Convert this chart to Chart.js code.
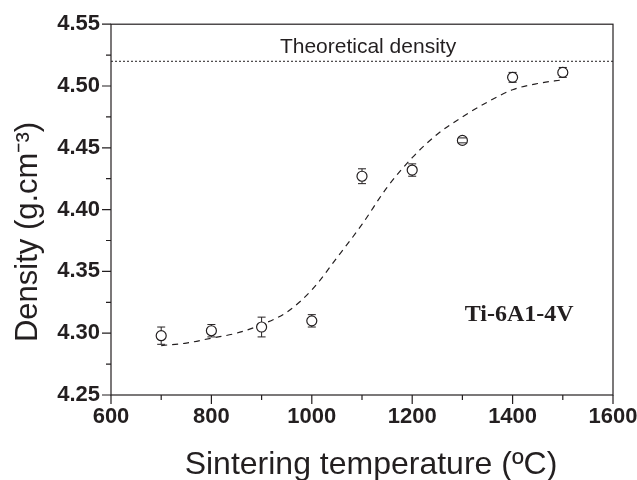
<!DOCTYPE html>
<html><head><meta charset="utf-8">
<script src="https://cdn.jsdelivr.net/npm/chart.js@4"></script>
<style>html,body{margin:0;padding:0;background:#fff}#wrap{width:637px;height:480px}</style>
</head><body><div id="wrap"><canvas id="c"></canvas></div>
<script>
const temperatures = [700, 800, 900, 1000, 1100, 1200, 1300, 1400, 1500];
const densities = [4.298, 4.302, 4.305, 4.310, 4.427, 4.432, 4.456, 4.507, 4.511];
const errors = [0.007, 0.005, 0.008, 0.005, 0.006, 0.005, 0.002, 0.004, 0.004];
const fitX = [700, 750, 800, 850, 900, 950, 1000, 1050, 1100, 1150, 1200, 1250, 1300, 1350, 1400, 1450, 1500];
const fitY = [4.290, 4.292, 4.296, 4.300, 4.307, 4.317, 4.335, 4.361, 4.388, 4.418, 4.442, 4.461, 4.475, 4.487, 4.497, 4.502, 4.505];
const theoretical = 4.52;
const xTicks = [600, 800, 1000, 1200, 1400, 1600];
const yTicks = [4.25, 4.30, 4.35, 4.40, 4.45, 4.50, 4.55];
const xTitle = 'Sintering temperature (ºC)';
const yTitle = 'Density (g.cm⁻³)';

const ink = '#231f20';
const sans = 'Arial, "Liberation Sans", sans-serif';
const extras = {
  id: 'extras',
  afterDatasetsDraw(chart) {
    const {ctx, chartArea: a, scales: {x, y}} = chart;
    ctx.save();
    ctx.strokeStyle = ink; ctx.lineWidth = 1;
    temperatures.forEach((t, i) => {
      const px = x.getPixelForValue(t);
      const top = y.getPixelForValue(densities[i] + errors[i]);
      const bot = y.getPixelForValue(densities[i] - errors[i]);
      const c = y.getPixelForValue(densities[i]);
      ctx.beginPath();
      if (c - top > 5) { ctx.moveTo(px, top); ctx.lineTo(px, c - 5); }
      if (bot - c > 5) { ctx.moveTo(px, c + 5); ctx.lineTo(px, bot); }
      ctx.moveTo(px - 4, top); ctx.lineTo(px + 4, top);
      ctx.moveTo(px - 4, bot); ctx.lineTo(px + 4, bot);
      ctx.stroke();
    });
    ctx.lineWidth = 1.2;
    ctx.strokeRect(a.left, a.top, a.right - a.left, a.bottom - a.top);
    ctx.beginPath();
    for (let v = 600; v <= 1600; v += 100) {
      const px = x.getPixelForValue(v);
      const len = (v % 200 === 0) ? 9 : 5;
      ctx.moveTo(px, a.bottom); ctx.lineTo(px, a.bottom + len);
    }
    for (let k = 0; k <= 12; k++) {
      const v = 4.25 + k * 0.025;
      const py = y.getPixelForValue(v);
      const len = (k % 2 === 0) ? 9 : 5;
      ctx.moveTo(a.left, py); ctx.lineTo(a.left - len, py);
    }
    ctx.stroke();
    ctx.fillStyle = ink;
    ctx.textAlign = 'center'; ctx.textBaseline = 'middle';
    ctx.font = '21px ' + sans;
    ctx.fillText('Theoretical density', x.getPixelForValue(1112), y.getPixelForValue(4.5315));
    ctx.font = 'bold 24px "Times New Roman", "Liberation Serif", serif';
    ctx.fillText('Ti-6A1-4V', x.getPixelForValue(1413), y.getPixelForValue(4.315));
    // axis titles
    ctx.textBaseline = 'alphabetic';
    ctx.font = '32px ' + sans;
    ctx.fillText(xTitle, 371, 474);
    ctx.save();
    ctx.font = '31px ' + sans;
    ctx.translate(37, 232);
    ctx.rotate(-Math.PI / 2);
    ctx.fillText(yTitle, 0, 0);
    ctx.restore();
    ctx.restore();
  }
};

new Chart(document.getElementById('c'), {
  type: 'scatter',
  data: {
    datasets: [
      {
        data: [{x: 600, y: theoretical}, {x: 1600, y: theoretical}],
        showLine: true, borderColor: ink, borderWidth: 1, borderDash: [2, 2], pointRadius: 0, order: 3
      },
      {
        data: fitX.map((v, i) => ({x: v, y: fitY[i]})),
        showLine: true, borderColor: ink, borderWidth: 1.2, borderDash: [6, 5], pointRadius: 0,
        cubicInterpolationMode: 'monotone', order: 2
      },
      {
        data: temperatures.map((v, i) => ({x: v, y: densities[i]})),
        pointRadius: 5, pointBorderWidth: 1.2, pointBackgroundColor: '#fff', pointBorderColor: ink, order: 1
      }
    ]
  },
  options: {
    responsive: true, maintainAspectRatio: false, animation: false,
    devicePixelRatio: 1,
    layout: {padding: {top: 22, right: 24, bottom: 0, left: 0}},
    plugins: {legend: {display: false}, tooltip: {enabled: false}},
    scales: {
      x: {
        type: 'linear', min: 600, max: 1600,
        afterBuildTicks: s => { s.ticks = xTicks.map(v => ({value: v})); },
        afterFit: s => { s.height = 85; s.paddingLeft = 0; s.paddingRight = 0; },
        grid: {display: false, drawTicks: false},
        border: {display: false},
        ticks: {color: ink, padding: 9, maxRotation: 0, callback: v => String(v),
          font: {family: sans, size: 22, weight: 'bold'}},
        title: {display: false}
      },
      y: {
        type: 'linear', min: 4.25, max: 4.55,
        afterBuildTicks: s => { s.ticks = yTicks.map(v => ({value: v})); },
        afterFit: s => { s.width = 111; },
        grid: {display: false, drawTicks: false},
        border: {display: false},
        ticks: {color: ink, padding: 11, callback: v => v.toFixed(2), font: {family: sans, size: 22, weight: 'bold'}},
        title: {display: false}
      }
    }
  },
  plugins: [extras]
});
</script></body></html>
